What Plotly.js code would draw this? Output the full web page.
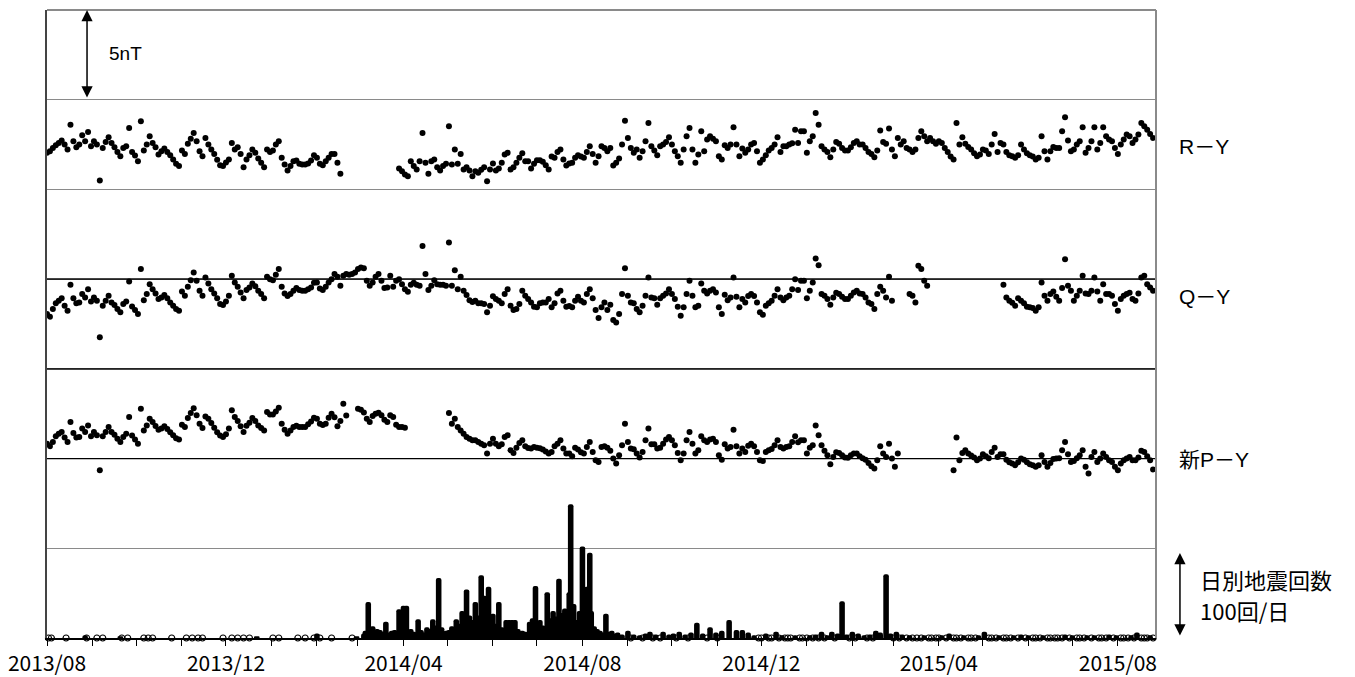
<!DOCTYPE html>
<html>
<head>
<meta charset="utf-8">
<script src="https://cdn.plot.ly/plotly-3.0.1.min.js"></script>
<style>
  html, body { margin: 0; padding: 0; background: #fff; }
</style>
</head>
<body>
<div id="container" style="width:1355px;height:677px;"></div>
<script>
// 全磁力差（nT）: 2013/08/01 から 2日ごと、null は欠測
const START_DATE = "2013-08-01";
const STEP_DAYS = 2;

const rY = [
  2.04, 2.13, 2.31, 2.46, 2.59, 2.72, 2.50, 2.22, 3.61, 2.69,
  2.35, 2.50, 3.02, 2.69, 3.20, 2.41, 2.69, 2.50, 0.50, 2.31,
  2.65, 2.91, 2.59, 2.35, 2.09, 1.85, 2.31, 2.41, 3.43, 2.09,
  1.89, 1.57, 3.80, 2.17, 2.50, 2.96, 2.59, 2.35, 1.94, 2.13,
  2.28, 2.09, 1.91, 1.67, 1.43, 1.30, 2.17, 1.98, 2.54, 2.83,
  3.15, 2.69, 2.13, 1.85, 2.87, 2.50, 2.22, 1.98, 1.65, 1.35,
  1.30, 1.50, 1.67, 2.59, 2.22, 2.35, 1.98, 1.24, 1.67, 1.91,
  2.22, 2.04, 1.72, 1.48, 1.24, 2.22, 2.09, 2.17, 2.50, 2.69,
  1.76, 1.39, 1.06, 1.30, 1.57, 1.61, 1.43, 1.39, 1.39, 1.44,
  1.61, 1.91, 1.76, 1.43, 1.35, 1.57, 1.76, 1.98, 1.98, 1.48,
  0.87, null, null, null, null, null, null, null, null, null,
  null, null, null, null, null, null, null, null, null, null,
  1.17, 1.02, 0.83, 0.74, 1.57, 1.30, 1.11, 1.57, 3.15, 1.48,
  0.87, 1.57, 1.67, 1.24, 1.06, 1.30, 1.43, 3.52, 1.39, 2.22,
  1.43, 1.98, 1.11, 1.24, 1.06, 0.74, 1.02, 0.93, 1.09, 1.24,
  0.46, 1.11, 1.44, 1.06, 1.17, 1.48, 1.94, 2.04, 1.11, 1.24,
  1.48, 1.76, 2.02, 1.57, 1.57, 1.17, 1.43, 1.63, 1.63, 1.54,
  1.35, 1.11, 1.83, 1.76, 2.09, 2.22, 1.67, 1.33, 1.44, 1.48,
  1.76, 1.91, 1.83, 1.76, 2.09, 2.41, 1.98, 1.48, 1.85, 2.41,
  2.31, 2.13, 2.31, 1.33, 1.48, 1.72, 2.50, 3.83, 2.87, 2.31,
  2.04, 2.22, 1.76, 2.13, 2.69, 3.70, 2.41, 2.17, 1.91, 2.41,
  2.50, 2.65, 2.91, 2.50, 2.13, 1.85, 1.48, 2.22, 2.96, 3.43,
  2.22, 1.48, 1.94, 3.24, 2.13, 2.78, 2.96, 2.83, 2.69, 1.85,
  1.67, 2.46, 2.31, 2.50, 3.46, 2.50, 1.85, 2.28, 2.04, 2.22,
  2.50, 2.59, 2.13, 1.48, 1.67, 1.91, 2.17, 2.31, 2.50, 2.91,
  2.09, 2.41, 2.41, 2.50, 2.57, 3.33, 2.59, 3.24, 3.24, 2.04,
  2.69, 2.96, 4.26, 3.61, 2.41, 2.22, 2.09, 1.80, 2.22, 2.65,
  2.54, 2.31, 2.17, 2.17, 2.35, 2.59, 2.69, 2.50, 2.50, 2.31,
  2.09, 1.98, 1.80, 2.17, 3.28, 2.65, 2.54, 3.39, 2.22, 1.85,
  2.87, 2.50, 2.69, 2.31, 2.22, 2.09, 2.22, 2.87, 3.24, 2.96,
  2.69, 2.87, 2.69, 2.54, 2.69, 2.59, 2.31, 2.09, 1.83, 1.67,
  3.70, 2.50, 2.91, 2.54, 2.37, 2.22, 2.02, 1.85, 1.94, 2.22,
  2.17, 1.98, 2.50, 3.09, 2.09, 2.59, 2.50, 2.09, 1.91, 1.85,
  1.76, 1.91, 2.50, 2.22, 2.02, 1.91, 1.83, 1.67, 1.76, 2.96,
  2.13, 1.67, 2.13, 2.37, 2.31, 2.31, 3.24, 4.02, 2.72, 2.13,
  2.22, 2.50, 2.69, 3.46, 2.04, 2.31, 2.69, 3.46, 2.22, 2.59,
  3.46, 2.96, 2.78, 2.69, 2.31, 1.98, 2.50, 2.78, 3.06, 2.96,
  2.59, 2.78, 3.06, 3.70, 3.52, 3.33, 3.09, 2.87
];

const qY = [
  -1.94, -2.09, -1.67, -1.35, -1.20, -1.06, -1.48, -1.76, -0.31, -1.06,
  -1.35, -1.30, -0.83, -1.02, -0.56, -1.24, -1.02, -1.20, -3.24, -1.48,
  -1.20, -0.93, -1.30, -1.44, -1.67, -1.85, -1.39, -1.24, -0.13, -1.52,
  -1.72, -1.94, 0.57, -1.17, -0.83, -0.28, -0.56, -0.80, -1.11, -1.02,
  -0.89, -1.06, -1.30, -1.48, -1.67, -1.76, -0.69, -0.93, -0.43, -0.06,
  0.37, -0.09, -0.65, -0.93, 0.09, -0.24, -0.56, -0.80, -1.06, -1.39,
  -1.44, -1.24, -0.93, 0.19, -0.19, -0.43, -0.74, -1.06, -0.61, -0.46,
  -0.24, -0.39, -0.65, -0.83, -1.06, 0.13, 0.00, -0.06, 0.24, 0.56,
  -0.43, -0.80, -0.94, -0.83, -0.65, -0.50, -0.61, -0.65, -0.65, -0.57,
  -0.46, -0.20, -0.19, -0.52, -0.61, -0.43, -0.19, 0.00, 0.28, 0.13,
  -0.37, 0.19, 0.28, 0.24, 0.28, 0.37, 0.56, 0.65, 0.61, -0.09,
  -0.37, -0.19, 0.13, 0.28, -0.09, -0.50, -0.46, 0.19, -0.43, -0.09,
  0.00, -0.28, -0.56, -0.70, -0.31, -0.20, -0.31, -0.37, 1.85, 0.28,
  -0.61, -0.37, -0.06, -0.28, -0.31, -0.31, -0.37, 2.04, -0.37, 0.50,
  -0.56, 0.13, -0.65, -0.89, -1.17, -1.28, -1.20, -1.35, -1.35, -1.39,
  -1.85, -1.48, -0.96, -1.11, -1.20, -1.35, -0.83, -0.56, -1.48, -1.72,
  -1.67, -1.39, -0.65, -0.93, -1.11, -1.30, -1.54, -1.57, -1.35, -1.30,
  -1.30, -1.11, -1.57, -1.35, -0.80, -0.65, -1.20, -1.54, -1.50, -1.57,
  -1.20, -0.98, -1.20, -1.30, -0.83, -0.56, -1.06, -1.72, -2.17, -1.57,
  -1.30, -1.72, -1.43, -2.28, -2.41, -1.94, -0.83, 0.61, -0.93, -1.30,
  -1.35, -1.67, -1.85, -1.48, -0.93, 0.09, -1.02, -1.06, -1.43, -1.06,
  -0.93, -0.80, -0.56, -0.83, -1.11, -1.54, -2.04, -1.57, -0.83, -0.09,
  -0.93, -1.57, -1.48, -0.24, -0.65, -0.80, -0.65, -0.57, -0.74, -1.57,
  -1.94, -0.87, -1.17, -1.02, 0.09, -0.98, -1.57, -1.11, -1.30, -0.94,
  -0.83, -0.94, -1.30, -1.85, -1.98, -1.48, -1.35, -1.20, -0.93, -0.56,
  -1.02, -1.17, -1.02, -0.93, -0.56, 0.00, -0.61, -0.09, -0.09, -1.06,
  -0.65, -0.19, 1.15, 0.78, -0.83, -0.93, -1.11, -1.43, -1.02, -0.76,
  -0.83, -0.98, -1.11, -1.11, -0.93, -0.74, -0.65, -0.80, -0.83, -1.02,
  -1.30, -1.39, -1.67, -0.83, -0.43, -0.65, -1.02, 0.13, -1.20, null,
  null, null, null, null, -0.83, -0.93, -1.30, 0.74, 0.56, -0.09,
  -0.37, null, null, null, null, null, null, null, null, null,
  null, null, null, null, null, null, null, null, null, null,
  null, null, null, null, null, null, -0.31, -1.02, -1.20, -1.31,
  -1.48, -1.06, -1.20, -1.35, -1.54, -1.57, -1.61, -1.76, -1.57, -0.19,
  -0.93, -1.20, -0.83, -0.69, -0.98, -1.20, -0.50, 1.11, -0.37, -0.65,
  -1.20, -0.93, -0.65, 0.19, -0.80, -0.83, -0.65, 0.09, -0.69, -1.20,
  -0.28, -0.83, -0.83, -0.93, -1.39, -1.76, -1.11, -0.93, -0.83, -0.76,
  -1.11, -1.20, -0.80, 0.09, 0.19, -0.28, -0.46, -0.65
];

const pY = [
  0.83, 0.69, 0.93, 1.24, 1.39, 1.48, 1.17, 0.93, 2.04, 1.43,
  1.17, 1.20, 1.67, 1.48, 1.85, 1.24, 1.48, 1.30, -0.65, 1.24,
  1.48, 1.76, 1.48, 1.33, 1.11, 0.93, 1.20, 1.39, 2.31, 1.28,
  1.06, 0.83, 2.78, 1.57, 1.85, 2.22, 2.04, 1.81, 1.61, 1.67,
  1.80, 1.65, 1.46, 1.30, 1.13, 1.06, 1.89, 1.76, 2.26, 2.54,
  2.81, 2.41, 1.94, 1.70, 2.35, 2.22, 1.98, 1.72, 1.46, 1.28,
  1.20, 1.35, 1.67, 2.69, 2.31, 2.09, 1.80, 1.48, 1.83, 2.00,
  2.26, 2.09, 1.85, 1.70, 1.57, 2.59, 2.46, 2.46, 2.63, 2.83,
  1.94, 1.61, 1.39, 1.57, 1.76, 1.83, 1.76, 1.76, 1.76, 1.91,
  2.06, 2.28, 2.22, 1.94, 1.87, 1.94, 2.28, 2.50, 2.30, 1.80,
  2.10, 3.05, 2.40, null, null, null, 2.78, 2.72, 2.57, 2.22,
  2.04, 2.37, 2.50, 2.56, 2.41, 2.17, 2.04, 2.41, 2.31, 1.89,
  1.76, 1.76, 1.72, null, null, null, null, null, null, null,
  null, null, null, null, null, null, null, 2.54, 1.94, 2.22,
  1.76, 1.57, 1.39, 1.20, 1.11, 1.02, 1.02, 0.93, 0.83, 0.74,
  0.28, 0.83, 1.11, 0.83, 0.69, 0.80, 1.20, 1.30, 0.46, 0.31,
  0.61, 0.87, 1.02, 0.69, 0.59, 0.56, 0.65, 0.61, 0.57, 0.50,
  0.39, 0.28, 0.37, 0.69, 0.83, 1.02, 0.56, 0.28, 0.28, 0.13,
  0.61, 0.50, 0.35, 0.28, 0.65, 0.93, 0.37, -0.09, -0.19, 0.65,
  0.69, 0.61, 0.43, 0.00, -0.28, 0.19, 0.74, 1.94, 0.93, 0.56,
  0.52, 0.28, 0.06, 0.37, 1.02, 1.67, 0.80, 0.80, 0.56, 0.61,
  0.83, 1.06, 1.20, 1.02, 0.74, 0.31, -0.09, 0.28, 1.02, 1.48,
  0.83, 0.28, 0.46, 1.24, 1.02, 0.93, 1.06, 1.11, 0.93, 0.19,
  -0.06, 0.80, 0.56, 0.65, 1.61, 0.69, 0.28, 0.56, 0.37, 0.72,
  0.83, 0.69, 0.37, -0.09, -0.13, 0.37, 0.46, 0.54, 0.74, 1.02,
  0.65, 0.56, 0.65, 0.69, 0.93, 1.24, 0.91, 1.02, 1.02, 0.28,
  0.61, 0.74, 1.85, 1.30, 0.74, 0.43, 0.19, -0.31, 0.09, 0.35,
  0.31, 0.19, 0.06, 0.04, 0.19, 0.28, 0.28, 0.13, 0.02, -0.06,
  -0.24, -0.43, -0.56, -0.09, 0.69, 0.28, 0.09, 0.83, 0.00, -0.46,
  0.28, null, null, null, null, null, null, null, null, null,
  null, null, null, null, null, null, null, null, null, -0.65,
  1.17, -0.09, 0.31, 0.46, 0.28, 0.17, 0.06, -0.09, 0.00, 0.24,
  0.13, 0.02, 0.37, 0.61, 0.09, 0.24, 0.24, -0.06, -0.20, -0.28,
  -0.37, -0.20, 0.00, -0.06, -0.20, -0.31, -0.37, -0.46, -0.37, 0.19,
  -0.19, -0.46, -0.24, -0.02, 0.00, 0.02, 0.46, 0.93, 0.24, -0.19,
  -0.13, 0.02, 0.19, 0.46, -0.46, -0.83, 0.09, 0.37, -0.19, 0.00,
  0.28, 0.09, -0.09, -0.19, -0.46, -0.65, -0.28, -0.09, 0.00, 0.09,
  -0.09, -0.09, 0.06, 0.43, 0.37, 0.13, -0.09, -0.61
];

// 日別地震回数（回/日）
const quakeDates = [
  "2013-08-27", "2013-09-20", "2013-12-22", "2014-02-01", "2014-02-28",
  "2014-03-05", "2014-03-06", "2014-03-08", "2014-03-09", "2014-03-11", "2014-03-14", "2014-03-16",
  "2014-03-18", "2014-03-20", "2014-03-22", "2014-03-24", "2014-03-26", "2014-03-29", "2014-03-31",
  "2014-04-01", "2014-04-03", "2014-04-06", "2014-04-08", "2014-04-11", "2014-04-13", "2014-04-15",
  "2014-04-17", "2014-04-19", "2014-04-21", "2014-04-23", "2014-04-25", "2014-04-27", "2014-04-30",
  "2014-05-02", "2014-05-04", "2014-05-07", "2014-05-09", "2014-05-11", "2014-05-13", "2014-05-14",
  "2014-05-16", "2014-05-18", "2014-05-20", "2014-05-22", "2014-05-24", "2014-05-26", "2014-05-28",
  "2014-05-29", "2014-05-31", "2014-06-01", "2014-06-03", "2014-06-05", "2014-06-07", "2014-06-10",
  "2014-06-12", "2014-06-14", "2014-06-16", "2014-06-18", "2014-06-21", "2014-06-23", "2014-06-26",
  "2014-06-28", "2014-06-30", "2014-07-01", "2014-07-03", "2014-07-05", "2014-07-08", "2014-07-10",
  "2014-07-12", "2014-07-14", "2014-07-16", "2014-07-18", "2014-07-20", "2014-07-22", "2014-07-23",
  "2014-07-24", "2014-07-26", "2014-07-28", "2014-07-30", "2014-08-01", "2014-08-02", "2014-08-04",
  "2014-08-06", "2014-08-07", "2014-08-09", "2014-08-11", "2014-08-13", "2014-08-15", "2014-08-17",
  "2014-08-19", "2014-08-21", "2014-08-23", "2014-08-25", "2014-08-28",
  "2014-09-01", "2014-09-05", "2014-09-09", "2014-09-13", "2014-09-16", "2014-09-20", "2014-09-25",
  "2014-09-29", "2014-10-02", "2014-10-06", "2014-10-10", "2014-10-14", "2014-10-18", "2014-10-22",
  "2014-10-27", "2014-10-31", "2014-11-04", "2014-11-09", "2014-11-14", "2014-11-18", "2014-11-22",
  "2014-11-26", "2014-12-04", "2014-12-11", "2014-12-15", "2014-12-24",
  "2015-01-03", "2015-01-07", "2015-01-11", "2015-01-15", "2015-01-18", "2015-01-22", "2015-01-25",
  "2015-01-28", "2015-02-01", "2015-02-05", "2015-02-09", "2015-02-13", "2015-02-17", "2015-02-20",
  "2015-02-24", "2015-02-27", "2015-03-03", "2015-03-07", "2015-03-12", "2015-03-22", "2015-04-03",
  "2015-04-08", "2015-04-18", "2015-04-28", "2015-05-02", "2015-05-12", "2015-05-22", "2015-05-27",
  "2015-06-01", "2015-06-11", "2015-06-26", "2015-07-01", "2015-07-11", "2015-07-16", "2015-07-26",
  "2015-07-31", "2015-08-10", "2015-08-14", "2015-08-23"
];
const quakeCounts = [
  3, 2, 2, 5, 2,
  5, 8, 40, 12, 13, 10, 9,
  7, 18, 6, 8, 9, 32, 14,
  36, 36, 10, 7, 21, 9, 6,
  12, 10, 21, 14, 67, 12, 8,
  9, 13, 21, 16, 30, 22, 54,
  25, 20, 40, 25, 70, 47, 30,
  57, 15, 27, 16, 40, 12, 20,
  20, 20, 20, 10, 8, 7, 18,
  22, 58, 15, 20, 14, 51, 22,
  30, 24, 66, 28, 33, 25, 51,
  149, 38, 20, 30, 102, 35, 57,
  95, 30, 13, 10, 8, 6, 27,
  7, 8, 5, 6, 4,
  8, 4, 3, 5, 7, 4, 7,
  4, 5, 7, 4, 6, 17, 5,
  12, 6, 8, 20, 9, 9, 6,
  3, 5, 7, 3, 3,
  3, 4, 7, 3, 7, 5, 41,
  4, 7, 5, 3, 4, 8, 6,
  71, 5, 7, 4, 3, 3, 3,
  5, 3, 3, 7, 3, 3, 4,
  3, 3, 4, 3, 3, 3, 4,
  3, 3, 6, 3
];

// 地震のなかった日（基線上の白丸）
const quietDays = [
  "2013-08-02", "2013-08-04", "2013-08-14", "2013-08-28", "2013-09-04", "2013-09-08", "2013-09-21",
  "2013-09-25", "2013-10-06", "2013-10-09", "2013-10-12", "2013-10-25", "2013-11-04", "2013-11-08",
  "2013-11-12", "2013-11-15", "2013-11-29", "2013-12-05", "2013-12-09", "2013-12-13", "2013-12-17",
  "2014-01-02", "2014-01-06", "2014-01-19", "2014-01-24", "2014-01-30", "2014-02-03", "2014-02-11",
  "2014-02-25",
  "2014-09-03", "2014-09-11", "2014-09-18", "2014-09-23", "2014-10-04", "2014-10-12", "2014-10-25",
  "2014-11-01", "2014-11-29", "2014-12-01", "2014-12-06", "2014-12-08", "2014-12-13", "2014-12-17",
  "2014-12-19", "2014-12-21", "2014-12-27", "2014-12-29", "2015-01-01", "2015-01-05", "2015-01-09",
  "2015-01-13", "2015-01-20", "2015-01-30", "2015-02-03", "2015-02-11", "2015-02-15", "2015-03-01",
  "2015-03-05", "2015-03-10", "2015-03-14", "2015-03-17", "2015-03-20", "2015-03-25", "2015-03-27",
  "2015-03-30", "2015-04-01", "2015-04-06", "2015-04-11", "2015-04-13", "2015-04-16", "2015-04-21",
  "2015-04-23", "2015-04-26", "2015-05-05", "2015-05-07", "2015-05-10", "2015-05-15", "2015-05-17",
  "2015-05-20", "2015-05-25", "2015-05-30", "2015-06-04", "2015-06-06", "2015-06-09", "2015-06-14",
  "2015-06-16", "2015-06-19", "2015-06-21", "2015-06-24", "2015-06-29", "2015-07-04", "2015-07-06",
  "2015-07-09", "2015-07-14", "2015-07-19", "2015-07-21", "2015-07-24", "2015-07-29", "2015-08-03",
  "2015-08-05", "2015-08-08", "2015-08-12", "2015-08-17", "2015-08-19", "2015-08-21", "2015-08-25"
];

const DAY_MS = 86400000;

// 日付列を作る
const makeDates = n => {
  const t0 = Date.parse(START_DATE);
  let out = [];
  for (let i = 0; i < n; i++) {
    out.push(new Date(t0 + i * STEP_DAYS * DAY_MS).toISOString().slice(0, 10));
  }
  return out;
};

const magDates = makeDates(rY.length);

const dots = (y, axis) => ({
  type: "scatter",
  mode: "markers",
  x: magDates,
  y: y,
  yaxis: axis,
  marker: { size: 6, color: "#000" },
  hoverinfo: "skip"
});

const data = [
  {
    type: "bar",
    x: quakeDates,
    y: quakeCounts,
    width: 3.8 * DAY_MS,
    marker: { color: "#000", cornerradius: "50%" },
    hoverinfo: "skip"
  },
  {
    type: "scatter",
    mode: "markers",
    x: quietDays,
    y: quietDays.map(() => 0),
    cliponaxis: false,
    marker: { symbol: "circle-open", size: 6, color: "#000", line: { width: 1.2 } },
    hoverinfo: "skip"
  },
  dots(rY, "y2"),
  dots(qY, "y3"),
  dots(pY, "y4")
];

const GRID = "#8a8a8a";
const labelFont = { family: "Liberation Sans, Noto Sans CJK JP, sans-serif", size: 21, color: "#000" };
const jpFont = { family: "Noto Sans CJK JP, sans-serif", size: 22, color: "#000" };

const hline = y => ({
  type: "line", xref: "paper", yref: "y", x0: 0, x1: 1, y0: y, y1: y,
  line: { color: "#000", width: 1.3 }
});

const layout = {
  width: 1355,
  height: 677,
  margin: { l: 47, r: 199, t: 10, b: 39 },
  paper_bgcolor: "#fff",
  plot_bgcolor: "#fff",
  showlegend: false,
  hovermode: false,
  font: { family: "Noto Sans CJK JP, sans-serif", color: "#000" },
  xaxis: {
    type: "date",
    range: ["2013-08-01", "2015-08-27"],
    tick0: "2013-08-01",
    dtick: "M4",
    tickformat: "%Y/%m",
    ticks: "outside",
    ticklen: 6,
    tickcolor: "#000",
    minor: { dtick: "M1", ticks: "outside", ticklen: 6, tickcolor: "#000", showgrid: false },
    showgrid: false,
    zeroline: false,
    showline: true,
    linecolor: "#000",
    linewidth: 1.5,
    tickfont: { family: "Noto Sans CJK JP, sans-serif", size: 21, color: "#000" }
  },
  // 地震回数の軸（1目盛 100回/日）
  yaxis: {
    range: [0, 700],
    dtick: 100,
    showticklabels: false,
    showgrid: true,
    gridcolor: GRID,
    gridwidth: 1.5,
    zeroline: false,
    showline: true,
    linecolor: "#444",
    linewidth: 2
  },
  // 磁力差の軸（1目盛 5nT）
  yaxis2: { overlaying: "y", range: [-25, 10], visible: false },
  yaxis3: { overlaying: "y", range: [-20, 15], visible: false },
  yaxis4: { overlaying: "y", range: [-10, 25], visible: false },
  shapes: [
    hline(400),
    hline(300),
    hline(200),
    { type: "line", xref: "paper", yref: "paper", x0: 0, x1: 1, y0: 1, y1: 1, line: { color: GRID, width: 2 } },
    { type: "line", xref: "paper", yref: "paper", x0: 1, x1: 1, y0: 0, y1: 1, line: { color: GRID, width: 2 } }
  ],
  annotations: [
    {
      xref: "paper", yref: "paper", x: 0.0361, y: 1, text: "",
      showarrow: true, axref: "pixel", ayref: "pixel", ax: 0, ay: 89,
      arrowside: "end+start", arrowhead: 2, startarrowhead: 2,
      arrowsize: 1.5, startarrowsize: 1.5, arrowwidth: 1.5, arrowcolor: "#000"
    },
    {
      xref: "paper", yref: "paper", x: 0.0541, y: 0.9315, text: "5nT",
      xanchor: "left", yanchor: "middle", showarrow: false,
      font: { family: "Liberation Sans, sans-serif", size: 19, color: "#000" }
    },
    {
      xref: "paper", yref: "paper", x: 1.0187, y: 0.783, text: "R－Y",
      xanchor: "left", yanchor: "middle", showarrow: false, font: labelFont
    },
    {
      xref: "paper", yref: "paper", x: 1.0187, y: 0.543, text: "Q－Y",
      xanchor: "left", yanchor: "middle", showarrow: false, font: labelFont
    },
    {
      xref: "paper", yref: "paper", x: 1.0187, y: 0.285, text: "新P－Y",
      xanchor: "left", yanchor: "middle", showarrow: false, font: labelFont
    },
    {
      xref: "paper", yref: "paper", x: 1.0216, y: 0.1354, text: "",
      showarrow: true, axref: "pixel", ayref: "pixel", ax: 0, ay: 84,
      arrowside: "end+start", arrowhead: 2, startarrowhead: 2,
      arrowsize: 1.5, startarrowsize: 1.5, arrowwidth: 1.5, arrowcolor: "#000"
    },
    {
      xref: "paper", yref: "paper", x: 1.0379, y: 0.094, text: "日別地震回数",
      xanchor: "left", yanchor: "middle", showarrow: false, font: jpFont
    },
    {
      xref: "paper", yref: "paper", x: 1.0379, y: 0.044, text: "100回/日",
      xanchor: "left", yanchor: "middle", showarrow: false, font: jpFont
    }
  ]
};

Plotly.newPlot("container", data, layout, { displayModeBar: false, staticPlot: true });
</script>
</body>
</html>
